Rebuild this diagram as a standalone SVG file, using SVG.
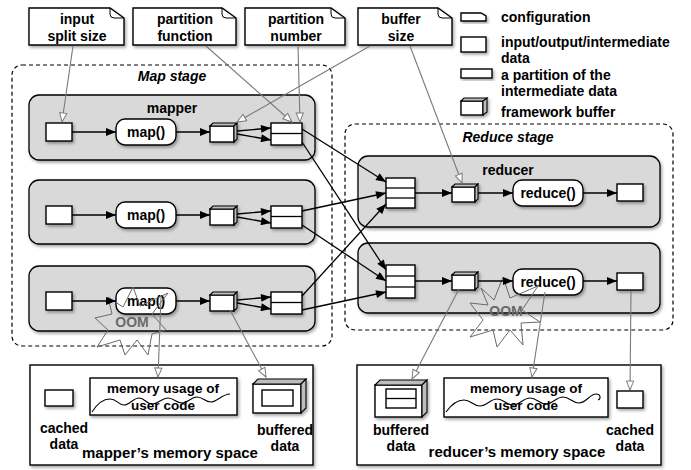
<svg xmlns="http://www.w3.org/2000/svg" width="691" height="470" viewBox="0 0 691 470">
<style>
text{font-family:"Liberation Sans",Arial,sans-serif;font-weight:bold;font-size:14px;fill:#000}
.c{text-anchor:middle}
.l{text-anchor:start}
.it{font-style:italic}
.oom{fill:#6a6a6a;text-anchor:middle;font-size:14px}
.box{fill:#fff;stroke:#000;stroke-width:1.4}
.proc{fill:#fff;stroke:#000;stroke-width:1.4}
.grp{fill:#d9d9d9;stroke:#000;stroke-width:1.3}
.stage{fill:none;stroke:#000;stroke-width:1.2;stroke-dasharray:4 3}
.face{fill:#bdbdbd;stroke:#000;stroke-width:1.1}
.arr{fill:none;stroke:#000;stroke-width:1.3;marker-end:url(#ah)}
.garr{fill:none;stroke:#7a7a7a;stroke-width:1.1;marker-end:url(#oh)}
.star{fill:none;stroke:#6a6a6a;stroke-width:1}
.wave{fill:none;stroke:#000;stroke-width:1.1}
.mu{font-size:13.5px}
.sh{filter:url(#ds)}
</style>
<defs>
<filter id="ds" x="-10%" y="-10%" width="130%" height="140%">
<feDropShadow dx="1.5" dy="2" stdDeviation="1.5" flood-color="#000" flood-opacity="0.35"/>
</filter>
<marker id="ah" viewBox="0 0 10 8" refX="10" refY="4" markerWidth="11" markerHeight="8" markerUnits="userSpaceOnUse" orient="auto">
<path d="M0,0 L10,4 L0,8 Z" fill="#000"/>
</marker>
<marker id="oh" viewBox="0 0 12 10" refX="11" refY="5" markerWidth="11" markerHeight="9" markerUnits="userSpaceOnUse" orient="auto">
<path d="M1,1 L11,5 L1,9 Z" fill="#fff" stroke="#7a7a7a" stroke-width="1.1"/>
</marker>
</defs>

<!-- stages -->
<g id="map-stage">
<rect class="stage" x="12" y="65" width="320" height="281" rx="10"/>
<text class="c it" x="172" y="81">Map stage</text>
</g>
<g id="reduce-stage">
<rect class="stage" x="345" y="124" width="328" height="206" rx="10"/>
<text class="c it" x="508" y="142">Reduce stage</text>
</g>

<!-- config notes -->
<g id="note-input-split-size">
<path class="box sh" d="M29,8 H110 L124,18 V45 H29 Z"/>
<path d="M110,8 V14 Q110,18 114,18 H124" fill="none" stroke="#000" stroke-width="1"/>
<text class="c" x="77" y="24">input</text>
<text class="c" x="77" y="41">split size</text>
</g>
<g id="note-partition-function">
<path class="box sh" d="M133,8 H222 L236,18 V45 H133 Z"/>
<path d="M222,8 V14 Q222,18 226,18 H236" fill="none" stroke="#000" stroke-width="1"/>
<text class="c" x="185" y="24">partition</text>
<text class="c" x="185" y="41">function</text>
</g>
<g id="note-partition-number">
<path class="box sh" d="M245,8 H331 L345,18 V45 H245 Z"/>
<path d="M331,8 V14 Q331,18 335,18 H345" fill="none" stroke="#000" stroke-width="1"/>
<text class="c" x="296" y="24">partition</text>
<text class="c" x="296" y="41">number</text>
</g>
<g id="note-buffer-size">
<path class="box sh" d="M358,8 H438 L452,18 V45 H358 Z"/>
<path d="M438,8 V14 Q438,18 442,18 H452" fill="none" stroke="#000" stroke-width="1"/>
<text class="c" x="401" y="24">buffer</text>
<text class="c" x="401" y="41">size</text>
</g>

<!-- legend -->
<g id="legend">
<path class="box sh" d="M461,13 H481 L486,16 V21 H461 Z"/>
<text class="l" x="501" y="22">configuration</text>
<rect class="box sh" x="461" y="37" width="25" height="15"/>
<text class="l" x="501" y="47">input/output/intermediate</text>
<text class="l" x="501" y="63">data</text>
<rect class="box sh" x="461" y="69" width="31" height="9"/>
<text class="l" x="501" y="80">a partition of the</text>
<text class="l" x="501" y="96">intermediate data</text>
<g class="sh">
<rect class="box" x="461" y="101" width="22" height="14"/>
<path class="face" d="M461,101 L464,98 H487 L483,101 Z"/>
<path class="face" d="M483,101 L487,98 V112 L483,115 Z"/>
</g>
<text class="l" x="501" y="117">framework buffer</text>
</g>

<!-- mappers -->
<g id="mapper-1">
<rect class="grp sh" x="29" y="95" width="286" height="65" rx="10"/>
<text class="c" x="172" y="113">mapper</text>
<rect class="box sh" x="46" y="123" width="26" height="18"/>
<rect class="proc sh" x="116" y="119" width="60" height="26" rx="9"/>
<text class="c" x="146" y="137">map()</text>
<g class="sh"><rect class="box" x="210" y="126" width="24" height="16"/>
<path class="face" d="M210,126 L213,123 H237 L234,126 Z"/>
<path class="face" d="M234,126 L237,123 V139 L234,142 Z"/></g>
<g class="sh"><rect class="box" x="271" y="123" width="31" height="22"/>
<line x1="271" y1="133.5" x2="302" y2="133.5" stroke="#000" stroke-width="1.3"/></g>
</g>
<g id="mapper-2">
<rect class="grp sh" x="29" y="180" width="286" height="64" rx="10"/>
<rect class="box sh" x="46" y="206" width="26" height="18"/>
<rect class="proc sh" x="116" y="202" width="60" height="26" rx="9"/>
<text class="c" x="146" y="220">map()</text>
<g class="sh"><rect class="box" x="210" y="209" width="24" height="16"/>
<path class="face" d="M210,209 L213,206 H237 L234,209 Z"/>
<path class="face" d="M234,209 L237,206 V222 L234,225 Z"/></g>
<g class="sh"><rect class="box" x="271" y="206" width="31" height="22"/>
<line x1="271" y1="216.5" x2="302" y2="216.5" stroke="#000" stroke-width="1.3"/></g>
</g>
<g id="mapper-3">
<rect class="grp sh" x="29" y="266" width="286" height="65" rx="10"/>
<rect class="box sh" x="46" y="292" width="26" height="18"/>
<rect class="proc sh" x="116" y="288" width="60" height="26" rx="9"/>
<text class="c" x="146" y="306">map()</text>
<g class="sh"><rect class="box" x="210" y="295" width="24" height="16"/>
<path class="face" d="M210,295 L213,292 H237 L234,295 Z"/>
<path class="face" d="M234,295 L237,292 V308 L234,311 Z"/></g>
<g class="sh"><rect class="box" x="271" y="292" width="31" height="22"/>
<line x1="271" y1="302.5" x2="302" y2="302.5" stroke="#000" stroke-width="1.3"/></g>
</g>

<!-- reducers -->
<g id="reducer-1">
<rect class="grp sh" x="358" y="156" width="302" height="71" rx="10"/>
<text class="c" x="508" y="175">reducer</text>
<g class="sh"><rect class="box" x="386" y="178" width="29" height="30"/>
<line x1="386" y1="188" x2="415" y2="188" stroke="#000" stroke-width="1.3"/>
<line x1="386" y1="198" x2="415" y2="198" stroke="#000" stroke-width="1.3"/></g>
<g class="sh"><rect class="box" x="452" y="187" width="23" height="15"/>
<path class="face" d="M452,187 L455,184 H478 L475,187 Z"/>
<path class="face" d="M475,187 L478,184 V199 L475,202 Z"/></g>
<rect class="proc sh" x="513" y="180" width="70" height="26" rx="9"/>
<text class="c" x="548" y="198">reduce()</text>
<rect class="box sh" x="617" y="184" width="26" height="17"/>
</g>
<g id="reducer-2">
<rect class="grp sh" x="358" y="243" width="302" height="70" rx="10"/>
<g class="sh"><rect class="box" x="386" y="265" width="29" height="33"/>
<line x1="386" y1="276" x2="415" y2="276" stroke="#000" stroke-width="1.3"/>
<line x1="386" y1="287" x2="415" y2="287" stroke="#000" stroke-width="1.3"/></g>
<g class="sh"><rect class="box" x="452" y="275" width="23" height="15"/>
<path class="face" d="M452,275 L455,272 H478 L475,275 Z"/>
<path class="face" d="M475,275 L478,272 V287 L475,290 Z"/></g>
<rect class="proc sh" x="513" y="269" width="70" height="26" rx="9"/>
<text class="c" x="548" y="287">reduce()</text>
<rect class="box sh" x="617" y="273" width="26" height="17"/>
</g>

<!-- memory spaces -->
<g id="mapper-memory">
<rect class="box sh" x="30" y="365" width="283" height="100"/>
<rect class="box sh" x="45" y="390" width="28" height="16"/>
<text class="c" x="64" y="433">cached</text>
<text class="c" x="64" y="449">data</text>
<rect class="box sh" x="90" y="378" width="147" height="37"/>
<path class="wave" d="M92,412 C97,404 103,399 110,399 C117,399 118,405 124,405 C130,405 133,398 139,398 C145,398 146,404 152,404 C158,404 162,398 168,398 C174,398 176,403 182,403 C188,403 191,397 197,397 C203,397 205,402 211,402 C217,402 222,394 230,394"/>
<text class="c mu" x="163" y="393">memory usage of</text>
<text class="c mu" x="163" y="410">user code</text>
<g class="sh"><rect class="box" x="253" y="384" width="48" height="29"/>
<path class="face" d="M253,384 L258,379 H306 L301,384 Z"/>
<path class="face" d="M301,384 L306,379 V408 L301,413 Z"/></g>
<rect class="box" x="262" y="390" width="31" height="16"/>
<text class="c" x="285" y="435">buffered</text>
<text class="c" x="285" y="451">data</text>
<text class="c" x="170" y="458" style="font-size:15px">mapper’s memory space</text>
</g>
<g id="reducer-memory">
<rect class="box sh" x="357" y="365" width="304" height="100"/>
<g class="sh"><rect class="box" x="375" y="385" width="47" height="32"/>
<path class="face" d="M375,385 L380,380 H427 L422,385 Z"/>
<path class="face" d="M422,385 L427,380 V412 L422,417 Z"/></g>
<rect class="box" x="386" y="389" width="30" height="19"/>
<line x1="386" y1="398.5" x2="416" y2="398.5" stroke="#000" stroke-width="1.3"/>
<text class="c" x="401" y="435">buffered</text>
<text class="c" x="401" y="451">data</text>
<rect class="box sh" x="444" y="378" width="164" height="39"/>
<path class="wave" d="M446,412 C451,405 457,400 464,400 C471,400 473,406 480,406 C487,406 490,399 497,399 C504,399 506,405 513,405 C520,405 523,398 530,398 C537,398 539,404 546,404 C553,404 556,397 563,397 C570,397 572,403 579,403 C586,403 590,394 596,394 C601,394 601,399 598,400"/>
<text class="c mu" x="526" y="393">memory usage of</text>
<text class="c mu" x="526" y="410">user code</text>
<rect class="box sh" x="617" y="391" width="26" height="17"/>
<text class="c" x="630" y="435">cached</text>
<text class="c" x="630" y="451">data</text>
<text class="c" x="517" y="457" style="font-size:15px">reducer’s memory space</text>
</g>

<!-- OOM explosions -->
<g id="oom-mapper">
<path class="star" d="M108,297 L123,307 L133,287 L140,306 L168,293 L152,314 L166,330 L152,334 L148,355 L137,340 L125,355 L120,340 L97,347 L108,330 L95,318 L112,314 Z"/>
<text class="oom" x="132" y="327">OOM</text>
</g>
<g id="oom-reducer">
<path class="star" d="M481,288 L494,300 L503,277 L510,298 L538,286 L522,310 L540,322 L521,323 L523,345 L510,330 L497,347 L493,330 L470,337 L483,320 L470,303 L488,305 Z"/>
<text class="oom" x="506" y="316">OOM</text>
</g>

<!-- connectors -->
<g id="connectors">
<path class="arr" d="M72,132 H116"/>
<path class="arr" d="M176,132 H210"/>
<path class="arr" d="M237,131 L271,128"/>
<path class="arr" d="M237,134 L271,140"/>
<path class="arr" d="M72,215 H116"/>
<path class="arr" d="M176,215 H210"/>
<path class="arr" d="M237,214 L271,211"/>
<path class="arr" d="M237,217 L271,223"/>
<path class="arr" d="M72,301 H116"/>
<path class="arr" d="M176,301 H210"/>
<path class="arr" d="M237,300 L271,297"/>
<path class="arr" d="M237,303 L271,309"/>

<path class="arr" d="M302,129 L386,182"/>
<path class="arr" d="M302,142 L386,270"/>
<path class="arr" d="M302,211 L386,193"/>
<path class="arr" d="M302,225 L386,281"/>
<path class="arr" d="M302,296 L386,204"/>
<path class="arr" d="M302,310 L386,292"/>

<path class="arr" d="M415,193 H452"/>
<path class="arr" d="M478,193 H513"/>
<path class="arr" d="M583,193 H617"/>
<path class="arr" d="M415,281 H452"/>
<path class="arr" d="M478,281 H513"/>
<path class="arr" d="M583,281 H617"/>

<path class="garr" d="M73,46 L62,122"/>
<path class="garr" d="M206,46 L292,122"/>
<path class="garr" d="M298,46 L300,122"/>
<path class="garr" d="M370,46 L237,122"/>
<path class="garr" d="M410,46 L462,183"/>
<path class="garr" d="M230,310 L266,377"/>
<path class="garr" d="M161,297 L158,377"/>
<path class="garr" d="M459,289 L412,379"/>
<path class="garr" d="M545,292 L532,377"/>
<path class="garr" d="M631,291 L630,390"/>
</g>
</svg>
